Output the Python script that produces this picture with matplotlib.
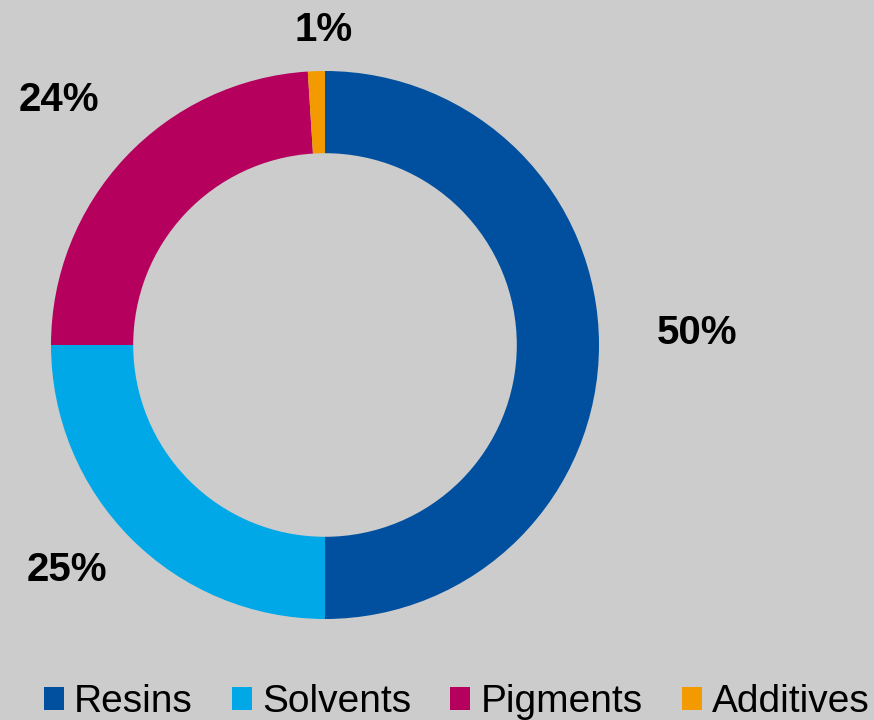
import matplotlib
matplotlib.use("Agg")
import matplotlib.pyplot as plt
import numpy as np

categories = ["Resins", "Solvents", "Pigments", "Additives"]
values = [50, 25, 24, 1]
labels = ["50%", "25%", "24%", "1%"]
colors = ["#00509F", "#00A8E8", "#B5005E", "#F29A00"]
label_dist = [1.36, 1.25, 1.32, 1.15]
label_shift = [1.8, -4.0, 0.6, -1.6]

W, H = 874, 720
bg = "#CCCCCC"
fig = plt.figure(figsize=(W / 100, H / 100), dpi=100, facecolor=bg)
ax = fig.add_axes([0, 0, 1, 1])
ax.set_facecolor(bg)

cx, cy, R = 325, H - 345, 274
wedges, _ = ax.pie(values, colors=colors, startangle=90, counterclock=False,
                   center=(cx, cy), radius=R, frame=True,
                   wedgeprops=dict(width=R * 0.30, edgecolor="none"))
ax.set_xlim(0, W)
ax.set_ylim(0, H)
ax.set_aspect("equal")
ax.axis("off")

for w, lab, d, sh in zip(wedges, labels, label_dist, label_shift):
    mid = np.deg2rad((w.theta1 + w.theta2) / 2 + sh)
    ax.text(cx + R * d * np.cos(mid), cy + R * d * np.sin(mid), lab,
            ha="center", va="center", fontsize=29, fontweight="bold",
            family="Liberation Sans", color="black")

leg = fig.legend(wedges, categories, loc="lower left",
                 bbox_to_anchor=(40 / W, -4 / H), ncol=4, frameon=False,
                 prop=dict(family="Liberation Sans", size=28),
                 handlelength=0.52, handleheight=0.52, handletextpad=0.26,
                 columnspacing=1.0, borderpad=0.1, borderaxespad=0)

fig.savefig("out.png", dpi=100, facecolor=bg)
